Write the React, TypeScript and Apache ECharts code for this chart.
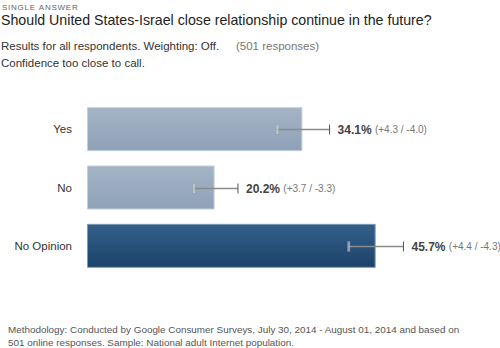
import React, { useEffect, useRef } from "react";
import * as echarts from "echarts";

const categories = ["Yes", "No", "No Opinion"];
const values = [34.1, 20.2, 45.7];
const plusErr = [4.3, 3.7, 4.4];
const minusErr = [4.0, 3.3, 4.3];
const highlighted = [false, false, true];

const FONT = "'Liberation Sans', Arial, sans-serif";

function spacedText(text: string, left: number, top: number, font: string, spacing: number, fill: string) {
  const ctx = document.createElement("canvas").getContext("2d") as CanvasRenderingContext2D;
  ctx.font = font;
  const out: any[] = [];
  let x = left;
  for (const ch of text) {
    out.push({ type: "text", x, y: top, style: { text: ch, fill, font } });
    x += ctx.measureText(ch).width + spacing;
  }
  return out;
}

export default function App() {
  const ref = useRef<HTMLDivElement>(null);
  useEffect(() => {
    if (!ref.current) return;
    const chart = echarts.init(ref.current, null, { renderer: "svg" });

    const barData = values.map((v, i) => ({
      value: v,
      itemStyle: {
        color: new echarts.graphic.LinearGradient(0, 0, 0, 1, highlighted[i]
          ? [{ offset: 0, color: "#33608a" }, { offset: 1, color: "#1d4268" }]
          : [{ offset: 0, color: "#a4b4c6" }, { offset: 1, color: "#8ea1b7" }]),
        borderColor: highlighted[i] ? "#7f9bb8" : "#c3cfdb",
        borderWidth: 1,
      },
    }));

    const errData = values.map((v, i) => [i, v, v - minusErr[i], v + plusErr[i], plusErr[i], minusErr[i]]);

    chart.setOption({
      animation: false,
      textStyle: { fontFamily: FONT },
      grid: { left: 87, right: 34, top: 100, height: 175, containLabel: false },
      xAxis: {
        type: "value",
        min: 0,
        max: 60,
        show: false,
      },
      yAxis: {
        type: "category",
        data: categories,
        inverse: true,
        axisLine: { show: false },
        axisTick: { show: false },
        splitLine: { show: false },
        axisLabel: { color: "#333", fontSize: 11.5, margin: 15, fontFamily: FONT },
      },
      graphic: [
        {
          type: "group",
          children: spacedText("SINGLE ANSWER", 2, 3, `8px ${FONT}`, 0.75, "#666"),
        },
        { type: "text", left: 1, top: 13, style: { text: "Should United States-Israel close relationship continue in the future?", fill: "#222", font: `14.2px ${FONT}` } },
        { type: "text", left: 1, top: 40, style: { text: "Results for all respondents. Weighting: Off.", fill: "#333", font: `11.5px ${FONT}` } },
        { type: "text", left: 236, top: 40, style: { text: "(501 responses)", fill: "#777", font: `11.5px ${FONT}` } },
        { type: "text", left: 1, top: 57, style: { text: "Confidence too close to call.", fill: "#333", font: `11.5px ${FONT}` } },
        { type: "text", left: 8, top: 324, style: { text: "Methodology: Conducted by Google Consumer Surveys, July 30, 2014 - August 01, 2014 and based on", fill: "#555", font: `9.9px ${FONT}` } },
        { type: "text", left: 8, top: 337, style: { text: "501 online responses. Sample: National adult Internet population.", fill: "#555", font: `9.9px ${FONT}` } },
      ],
      series: [
        {
          type: "bar",
          data: barData,
          barWidth: 44,
          silent: true,
        },
        {
          type: "custom",
          silent: true,
          encode: { x: [1, 2, 3], y: 0 },
          data: errData,
          renderItem: (params: any, api: any) => {
            const idx = api.value(0);
            const v = api.value(1);
            const lo = api.value(2);
            const hi = api.value(3);
            const pe = api.value(4);
            const me = api.value(5);
            const pLo = api.coord([lo, idx]);
            const pHi = api.coord([hi, idx]);
            const y = Math.round(pLo[1]) + 0.5;
            return {
              type: "group",
              children: [
                {
                  type: "line",
                  shape: { x1: pLo[0], y1: y, x2: pHi[0], y2: y },
                  style: { stroke: "#8a8a8a", lineWidth: 1.5 },
                },
                {
                  type: "rect",
                  shape: { x: pLo[0] - 1, y: y - 5, width: 2.5, height: 10 },
                  style: { fill: "rgba(225,225,225,0.55)", stroke: "rgba(140,140,140,0.6)", lineWidth: 0.5 },
                },
                {
                  type: "line",
                  shape: { x1: pHi[0], y1: y - 5, x2: pHi[0], y2: y + 5 },
                  style: { stroke: "#555", lineWidth: 1 },
                },
                {
                  type: "text",
                  x: pHi[0] + 8,
                  y: y,
                  style: {
                    text: `{b|${v.toFixed(1)}%} {s|(+${pe.toFixed(1)} / -${me.toFixed(1)})}`,
                    verticalAlign: "middle",
                    align: "left",
                    rich: {
                      b: { fontSize: 12, fontWeight: "bold", fill: "#444", fontFamily: FONT },
                      s: { fontSize: 10, fill: "#777", fontFamily: FONT },
                    },
                  },
                },
              ],
            };
          },
          z: 3,
        },
      ],
    });
    return () => chart.dispose();
  }, []);
  return <div ref={ref} style={{ position: "fixed", left: 0, top: 0, width: 500, height: 348, background: "#fff" }} />;
}
